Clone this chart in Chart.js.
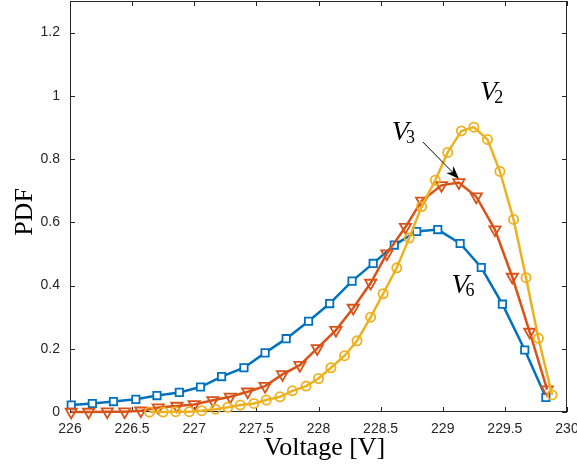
<!DOCTYPE html>
<html>
<head>
<meta charset="utf-8">
<script src="https://cdn.jsdelivr.net/npm/chart.js@4.4.0/dist/chart.umd.min.js"></script>
<style>
    html, body { margin: 0; padding: 0; background: #ffffff; }
    #wrap { width: 577px; height: 465px; }
</style>
</head>
<body>
<div id="wrap"><canvas id="pdfChart" width="577" height="465"></canvas></div>
<script>
// values
const xV6 = [226.01, 226.18, 226.35, 226.53, 226.70, 226.88, 227.05, 227.22, 227.40, 227.57, 227.74, 227.92,
    228.09, 228.27, 228.44, 228.61, 228.79, 228.96, 229.14, 229.31, 229.48, 229.66, 229.83];
const pdfV6 = [0.022, 0.027, 0.033, 0.040, 0.052, 0.062, 0.079, 0.112, 0.140, 0.187, 0.232, 0.287,
    0.343, 0.414, 0.470, 0.528, 0.571, 0.577, 0.533, 0.457, 0.341, 0.196, 0.046];

const xV3 = [226.01, 226.15, 226.30, 226.44, 226.57, 226.71, 226.86, 227.00, 227.15, 227.29, 227.43, 227.57,
    227.71, 227.85, 227.99, 228.14, 228.28, 228.42, 228.55, 228.70, 228.83, 228.99, 229.13, 229.27,
    229.42, 229.56, 229.70, 229.84];
const pdfV3 = [0.000, 0.000, 0.001, 0.001, 0.004, 0.014, 0.019, 0.024, 0.037, 0.048, 0.064, 0.082,
    0.119, 0.148, 0.201, 0.259, 0.329, 0.408, 0.501, 0.585, 0.668, 0.717, 0.726, 0.681,
    0.577, 0.427, 0.253, 0.071];

const xV2 = [226.64, 226.75, 226.85, 226.96, 227.06, 227.17, 227.27, 227.37, 227.48, 227.58, 227.69, 227.79,
    227.90, 228.00, 228.10, 228.21, 228.31, 228.42, 228.52, 228.63, 228.73, 228.83, 228.94, 229.04,
    229.15, 229.25, 229.36, 229.46, 229.57, 229.67, 229.77, 229.88];
const pdfV2 = [0.000, 0.000, 0.001, 0.001, 0.004, 0.009, 0.015, 0.022, 0.027, 0.038, 0.048, 0.067,
    0.082, 0.106, 0.140, 0.178, 0.225, 0.300, 0.374, 0.456, 0.550, 0.650, 0.733, 0.821,
    0.889, 0.901, 0.862, 0.761, 0.609, 0.425, 0.233, 0.054];

const xTicks = [226, 226.5, 227, 227.5, 228, 228.5, 229, 229.5, 230];
const xTickLabels = ['226', '226.5', '227', '227.5', '228', '228.5', '229', '229.5', '230'];
const yTicks = [0, 0.2, 0.4, 0.6, 0.8, 1, 1.2];
const yTickLabels = ['0', '0.2', '0.4', '0.6', '0.8', '1', '1.2'];

// curve labels and the arrow, in data units
const curveLabels = [
    { name: 'V', sub: '2', x: 229.30, y: 0.986 },
    { name: 'V', sub: '3', x: 228.59, y: 0.859 },
    { name: 'V', sub: '6', x: 229.07, y: 0.376 }
];
const arrowFrom = { x: 228.84, y: 0.854 };
const arrowTo = { x: 229.13, y: 0.738 };

const axisColor = '#262626';

function toPoints(xs, ys) {
    return xs.map((x, i) => ({ x: x, y: ys[i] }));
}

function makeSeries(label, xs, ys, color, style, radius, fill, order) {
    return {
        label: label,
        data: toPoints(xs, ys),
        borderColor: color,
        borderWidth: 2.5,
        pointStyle: style,
        pointRadius: radius,
        pointBorderWidth: 1.8,
        pointBorderColor: color,
        pointBackgroundColor: fill,
        pointRotation: style === 'triangle' ? 180 : 0,
        tension: 0,
        clip: false,
        order: order
    };
}

// no extra room for the end tick labels, the frame is fixed
function fixBox(scale, size) {
    if (scale.isHorizontal()) {
        scale.height = size;
    } else {
        scale.width = size;
    }
    scale.paddingTop = 0;
    scale.paddingBottom = 0;
    scale.paddingLeft = 0;
    scale.paddingRight = 0;
}

// box, inward ticks, axis titles and annotations
const frame = {
    id: 'frame',
    beforeDatasetsDraw(chart) {
        const ctx = chart.ctx;
        const a = chart.chartArea;
        const xs = chart.scales.x;
        const ys = chart.scales.y;
        ctx.save();
        ctx.strokeStyle = axisColor;
        ctx.lineWidth = 1;
        ctx.strokeRect(a.left + 0.5, a.top + 0.5, a.right - a.left - 1, a.bottom - a.top - 1);
        ctx.beginPath();
        xTicks.forEach(v => {
            const px = Math.round(xs.getPixelForValue(v)) + 0.5;
            ctx.moveTo(px, a.bottom);
            ctx.lineTo(px, a.bottom - 5);
            ctx.moveTo(px, a.top);
            ctx.lineTo(px, a.top + 5);
        });
        yTicks.forEach(v => {
            const py = Math.round(ys.getPixelForValue(v)) + 0.5;
            ctx.moveTo(a.left, py);
            ctx.lineTo(a.left + 5, py);
            ctx.moveTo(a.right, py);
            ctx.lineTo(a.right - 5, py);
        });
        ctx.stroke();
        ctx.restore();
    },
    afterDraw(chart) {
        const ctx = chart.ctx;
        const a = chart.chartArea;
        const xs = chart.scales.x;
        const ys = chart.scales.y;
        ctx.save();
        ctx.fillStyle = '#000000';

        // axis titles
        ctx.font = '26px "Liberation Serif"';
        ctx.textAlign = 'center';
        ctx.textBaseline = 'alphabetic';
        ctx.fillText('Voltage [V]', (a.left + a.right) / 2 + 6, 455);
        ctx.save();
        ctx.translate(32, 212);
        ctx.rotate(-Math.PI / 2);
        ctx.fillText('PDF', 0, 0);
        ctx.restore();

        // V labels
        ctx.textAlign = 'left';
        curveLabels.forEach(l => {
            const px = xs.getPixelForValue(l.x);
            const py = ys.getPixelForValue(l.y);
            ctx.font = 'italic 28px "Liberation Serif"';
            ctx.fillText(l.name, px, py);
            const w = ctx.measureText(l.name).width;
            ctx.font = '18px "Liberation Serif"';
            ctx.fillText(l.sub, px + w - 3, py + 3);
        });

        // arrow
        const x0 = xs.getPixelForValue(arrowFrom.x), y0 = ys.getPixelForValue(arrowFrom.y);
        const x1 = xs.getPixelForValue(arrowTo.x), y1 = ys.getPixelForValue(arrowTo.y);
        const ang = Math.atan2(y1 - y0, x1 - x0);
        const headLen = 13, headW = 5;
        ctx.strokeStyle = '#000000';
        ctx.lineWidth = 1;
        ctx.beginPath();
        ctx.moveTo(x0, y0);
        ctx.lineTo(x1 - Math.cos(ang) * 8, y1 - Math.sin(ang) * 8);
        ctx.stroke();
        ctx.translate(x1, y1);
        ctx.rotate(ang);
        ctx.beginPath();
        ctx.moveTo(0, 0);
        ctx.lineTo(-headLen, -headW);
        ctx.lineTo(-headLen + 4, 0);
        ctx.lineTo(-headLen, headW);
        ctx.closePath();
        ctx.fill();
        ctx.restore();
    }
};

const ctx = document.getElementById('pdfChart').getContext('2d');
const pdfChart = new Chart(ctx, {
    type: 'line',
    data: {
        datasets: [
            makeSeries('V6', xV6, pdfV6, '#0072BD', 'rect', 5.2, '#ffffff', 3),
            makeSeries('V3', xV3, pdfV3, '#D95319', 'triangle', 6.5, 'rgba(0,0,0,0)', 2),
            makeSeries('V2', xV2, pdfV2, '#EDB120', 'circle', 4.6, 'rgba(0,0,0,0)', 1)
        ]
    },
    options: {
        responsive: false,
        animation: false,
        layout: { autoPadding: false, padding: { top: 1, right: 10, left: 0, bottom: 0 } },
        plugins: {
            legend: { display: false },
            tooltip: { enabled: false }
        },
        scales: {
            x: {
                type: 'linear',
                min: 226,
                max: 230,
                border: { display: false },
                grid: { display: false, drawTicks: false },
                afterBuildTicks: scale => { scale.ticks = xTicks.map(v => ({ value: v })); },
                afterFit: scale => fixBox(scale, 53),
                ticks: {
                    padding: 9,
                    maxRotation: 0,
                    autoSkip: false,
                    color: axisColor,
                    font: { family: '"Liberation Sans", Arial, sans-serif', size: 14 },
                    callback: (v) => xTickLabels[xTicks.indexOf(v)]
                }
            },
            y: {
                type: 'linear',
                min: 0,
                max: 1.3,
                border: { display: false },
                grid: { display: false, drawTicks: false },
                afterBuildTicks: scale => { scale.ticks = yTicks.map(v => ({ value: v })); },
                afterFit: scale => fixBox(scale, 70),
                ticks: {
                    padding: 10,
                    autoSkip: false,
                    color: axisColor,
                    font: { family: '"Liberation Sans", Arial, sans-serif', size: 14 },
                    callback: (v) => yTickLabels[yTicks.indexOf(v)]
                }
            }
        }
    },
    plugins: [frame]
});
</script>
</body>
</html>
